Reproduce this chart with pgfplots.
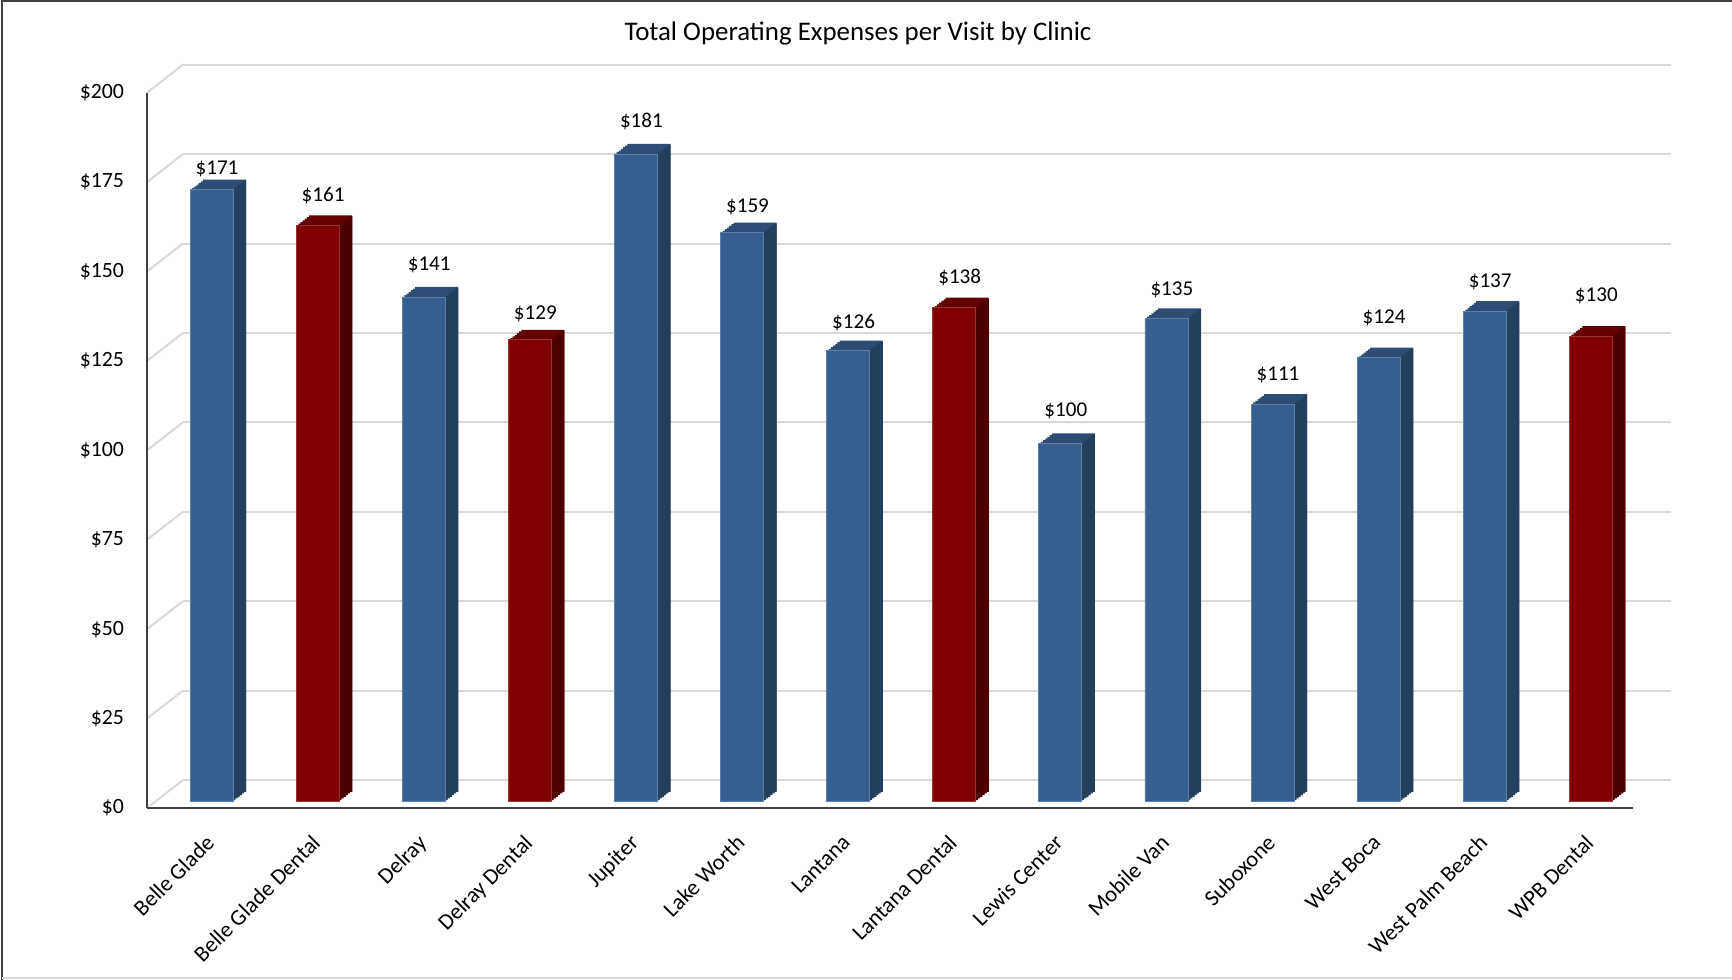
\documentclass[border=0pt]{standalone}
\usepackage{pgfplots}
\pgfplotsset{compat=1.18}
\usepackage{pgfplotstable}
\usepackage{fontspec}
\setmainfont{Carlito}
\definecolor{bfront}{RGB}{54,95,145}
\definecolor{btop}{RGB}{45,77,117}
\definecolor{bside}{RGB}{36,62,94}
\definecolor{rfront}{RGB}{128,0,0}
\definecolor{rtop}{RGB}{100,0,0}
\definecolor{rside}{RGB}{78,0,0}
\definecolor{gridc}{RGB}{217,217,217}
\definecolor{axisc}{RGB}{64,64,64}

\pgfplotstableread{
x y
0 171
2 141
4 181
5 159
6 126
8 100
9 135
10 111
11 124
12 137
}\bluedata
\pgfplotstableread{
x y
1 161
3 129
7 138
13 130
}\reddata
\pgfplotstableread{
x y lab
0 174.6 171
1 166.9 161
2 147.5 141
3 133.9 129
4 187.6 181
5 163.8 159
6 131.4 126
7 144.1 138
8 106.9 100
9 140.7 135
10 116.9 111
11 132.7 124
12 142.8 137
13 139.1 130
}\labeldata

\begin{document}
\begin{tikzpicture}
\begin{scope}[x=0.2mm,y=0.2mm]
\useasboundingbox (0,0) rectangle (1732,980);
% frame
\draw[axisc, line width=0.5mm] (2,0) -- (2,979) -- (1732,979);
\draw[gridc, line width=0.4mm] (2,2) -- (1732,2);
% title
\node[font=\fontsize{15.3}{18}\selectfont, anchor=base] at (858,939.3) {Total Operating Expenses per Visit by Clinic};
\foreach \v in {0,25,...,200} {
  \draw[gridc, line width=0.4mm] (147,{172+3.5765*\v}) -- (183,{200+3.5765*\v});
}
\coordinate (backpos) at (183,200);
\coordinate (barpos) at (147,179);
\coordinate (frontpos) at (147,172);
\end{scope}

% back wall grid
\begin{axis}[at={(backpos)}, anchor=south west, scale only axis, clip=false,
  width=297.5mm, height=143mm, xmin=0, xmax=1, ymin=0, ymax=200,
  ytick={0,25,...,200}, xtick=\empty, yticklabels={},
  ymajorgrids, grid style={gridc, line width=0.4mm},
  axis line style={draw=none}, major tick length=0pt]
\addplot[draw=none] coordinates {(0,0)};
\end{axis}

% bars
\begin{axis}[at={(barpos)}, anchor=south west, scale only axis, clip=false,
  width=297.2mm, height=143mm, xmin=-0.608, xmax=13.398, ymin=0, ymax=200,
  hide axis]
% top faces (stepped layers)
\pgfplotsinvokeforeach{1,2,3,4,5,6}{
  \addplot[ybar, bar width=8.6mm, bar shift=0pt, fill=btop, draw=none, xshift=#1*0.4333mm, yshift=#1*0.3333mm] table[x=x,y=y] {\bluedata};
  \addplot[ybar, bar width=8.6mm, bar shift=0pt, fill=rtop, draw=none, xshift=#1*0.4333mm, yshift=#1*0.3333mm] table[x=x,y=y] {\reddata};
}
% side faces (narrow strips)
\pgfplotsinvokeforeach{1,2,3,4,5,6}{
  \addplot[ybar, bar width=0.5mm, bar shift=0pt, fill=bside, draw=none, xshift=4.3mm+#1*0.4333mm-0.2167mm, yshift=#1*0.3333mm-0.1667mm] table[x=x,y=y] {\bluedata};
  \addplot[ybar, bar width=0.5mm, bar shift=0pt, fill=rside, draw=none, xshift=4.3mm+#1*0.4333mm-0.2167mm, yshift=#1*0.3333mm-0.1667mm] table[x=x,y=y] {\reddata};
}
% front faces
\addplot[ybar, bar width=8.6mm, bar shift=0pt, fill=bfront, draw=bfront!80!white, line width=0.15mm] table[x=x,y=y] {\bluedata};
\addplot[ybar, bar width=8.6mm, bar shift=0pt, fill=rfront, draw=rfront!80!white, line width=0.15mm] table[x=x,y=y] {\reddata};
\addplot[draw=none, mark=none, nodes near coords={\$\pgfplotspointmeta}, point meta=explicit symbolic,
  every node near coord/.append style={font=\fontsize{12}{14}\selectfont, inner sep=0pt, xshift=1.1mm}]
  table[x=x,y=y,meta=lab] {\labeldata};
\end{axis}

% front axis with labels
\begin{axis}[at={(frontpos)}, anchor=south west, scale only axis, clip=false,
  width=297.2mm, height=143.06mm, xmin=-0.608, xmax=13.398, ymin=0, ymax=200,
  axis x line=bottom, axis y line=left,
  axis line style={-, axisc, line width=0.5mm},
  ytick={0,25,...,200},
  yticklabels={\$0,\$25,\$50,\$75,\$100,\$125,\$150,\$175,\$200},
  xtick={0,...,13},
  xticklabels={Belle Glade,Belle Glade Dental,Delray,Delray Dental,Jupiter,Lake Worth,Lantana,Lantana Dental,Lewis Center,Mobile Van,Suboxone,West Boca,West Palm Beach,WPB Dental},
  major tick length=0pt,
  y tick label style={font=\fontsize{12.4}{14}\selectfont, anchor=east, inner sep=0pt, xshift=-4.54mm},
  x tick label style={font=\fontsize{12.8}{15}\selectfont, inner sep=0pt, xshift=-1.4mm, yshift=-5.0mm, rotate=45, anchor=north east}]
\addplot[draw=none] coordinates {(0,0)};
\end{axis}
\end{tikzpicture}
\end{document}
